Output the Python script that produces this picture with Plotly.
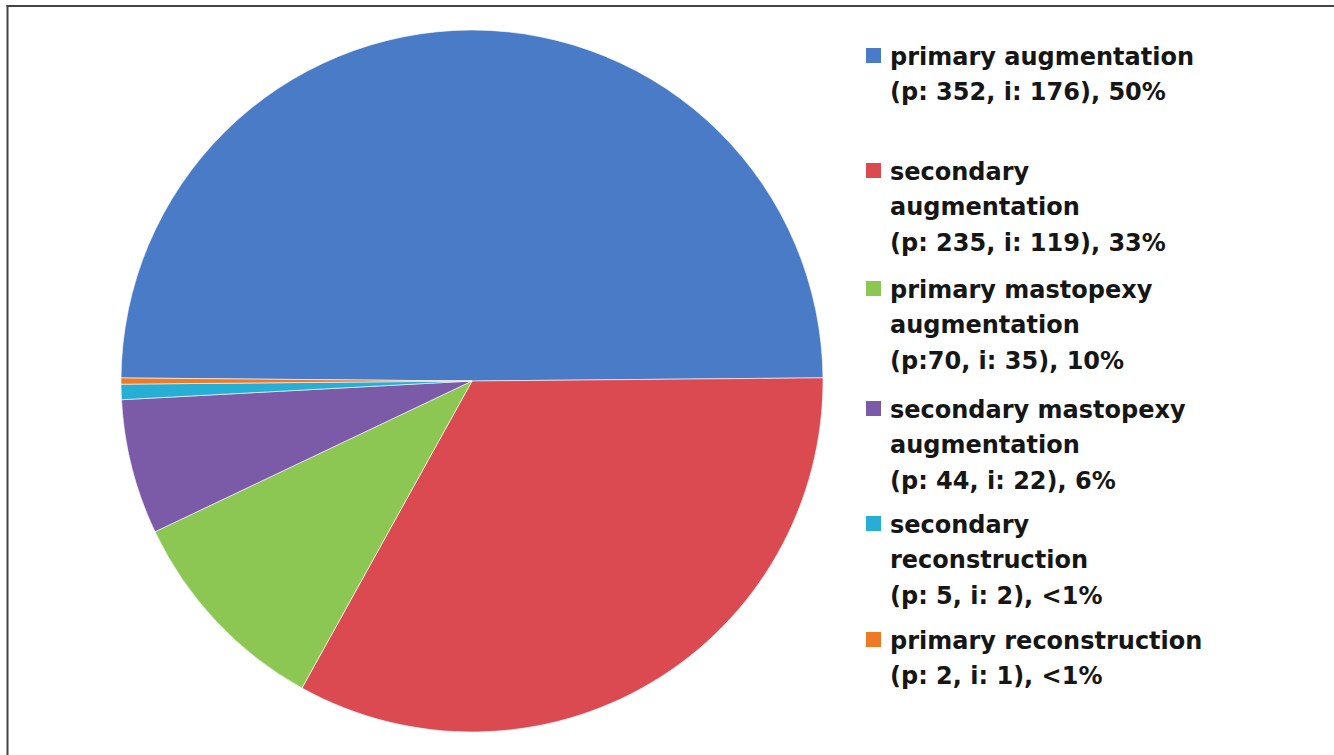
import plotly.graph_objects as go

# ---- data ----
categories = ["primary augmentation", "secondary augmentation",
              "primary mastopexy augmentation", "secondary mastopexy augmentation",
              "secondary reconstruction", "primary reconstruction"]
patients = [352, 235, 70, 44, 5, 2]
implants = [176, 119, 35, 22, 2, 1]
percent_labels = ["50%", "33%", "10%", "6%", "<1%", "<1%"]
legend_lines = [
    ["primary augmentation", "(p: 352, i: 176), 50%"],
    ["secondary", "augmentation", "(p: 235, i: 119), 33%"],
    ["primary mastopexy", "augmentation", "(p:70, i: 35), 10%"],
    ["secondary mastopexy", "augmentation", "(p: 44, i: 22), 6%"],
    ["secondary", "reconstruction", "(p: 5, i: 2), <1%"],
    ["primary reconstruction", "(p: 2, i: 1), <1%"],
]
colors = ["#4a7bc6", "#dc4a51", "#8dc753", "#7b5aa8", "#26aed4", "#ee7a26"]

# ---- layout constants (page pixels) ----
W, H = 1334, 755
OFF = 0
cx, cy, r = 472, 381, 351
first_line_y = [57, 172, 290, 410, 525, 641]
line_step = 35.3
text_x = 888
sq_x0, sq_size = 866, 15

def px(x):
    return (x - OFF) / W

def py(y):
    return 1 - (y - OFF) / H

fig = go.Figure()
fig.add_trace(go.Pie(
    labels=categories,
    values=patients,
    customdata=implants,
    marker=dict(colors=colors, line=dict(color="rgba(255,255,255,0.6)", width=1)),
    sort=False,
    direction="clockwise",
    rotation=270.5,
    textinfo="none",
    hovertemplate="%{label}<br>p: %{value}, i: %{customdata}<extra></extra>",
    domain=dict(x=[px(cx - r), px(cx + r)], y=[py(cy + r), py(cy - r)]),
    showlegend=False,
))

annotations = []
shapes = []
for i, lines in enumerate(legend_lines):
    y0 = first_line_y[i]
    for j, t in enumerate(lines):
        annotations.append(dict(
            x=px(text_x), y=py(y0 + j * line_step), xref="paper", yref="paper",
            xanchor="left", yanchor="middle", showarrow=False, text=t,
            font=dict(family="DejaVu Sans", size=24, color="#161616", weight="bold"),
        ))
    sc = y0 - 1.5
    shapes.append(dict(
        type="rect", xref="paper", yref="paper",
        x0=px(sq_x0), x1=px(sq_x0 + sq_size),
        y0=py(sc + sq_size / 2), y1=py(sc - sq_size / 2),
        fillcolor=colors[i], line=dict(width=0),
    ))

# frame lines (top and left)
shapes.append(dict(type="line", xref="paper", yref="paper", x0=px(6.5), x1=1,
                   y0=py(6), y1=py(6), line=dict(color="#444444", width=2)))
shapes.append(dict(type="line", xref="paper", yref="paper", x0=px(7.5), x1=px(7.5),
                   y0=0, y1=py(5), line=dict(color="#444444", width=2)))

fig.update_layout(
    width=W, height=H,
    margin=dict(l=0, r=0, t=0, b=0),
    paper_bgcolor="white", plot_bgcolor="white",
    annotations=annotations, shapes=shapes,
)

fig.write_html(
    "out.html",
    config={"displayModeBar": False},
    post_script="document.body.style.margin='0px';document.body.style.overflow='hidden';",
)
